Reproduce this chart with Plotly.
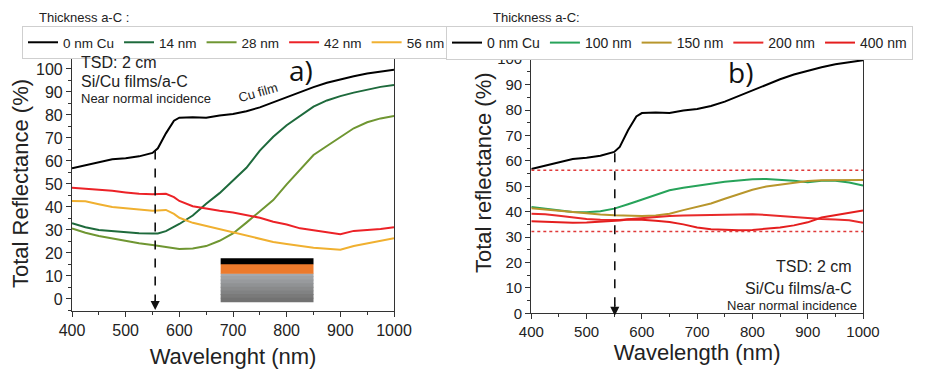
import plotly.graph_objects as go

# ---------------- data ----------------
wavelength = [400, 425, 450, 475, 500, 525, 550, 560, 575, 590, 600, 625, 650, 675,
              700, 725, 750, 775, 800, 825, 850, 875, 900, 925, 950, 975, 1000]

cu_film = [56.8, 58.2, 59.6, 60.7, 61.2, 62.0, 63.5, 65.5, 72.0, 77.5, 78.8, 79.0, 78.8, 79.8,
           80.4, 81.6, 83.3, 85.5, 88.0, 90.2, 92.1, 94.0, 95.5, 96.8, 98.0, 98.9, 99.6]

a_14nm = [32.9, 31.2, 30.0, 29.5, 28.8, 28.6, 28.5, 28.5, 29.5, 31.2, 32.6, 36.3, 41.4, 46.0,
          51.5, 57.0, 64.5, 70.5, 75.5, 79.5, 83.6, 86.3, 88.2, 89.7, 91.0, 92.2, 93.0]
a_28nm = [30.7, 28.8, 27.4, 26.3, 25.0, 24.2, 23.5, 23.1, 22.6, 22.0, 21.7, 21.9, 23.0, 25.3,
          28.5, 33.2, 38.2, 43.0, 49.8, 56.3, 62.6, 66.5, 70.2, 74.2, 76.8, 78.5, 79.6]
a_42nm = [48.4, 48.0, 47.7, 47.0, 46.3, 45.7, 45.5, 45.6, 45.7, 44.3, 42.6, 40.3, 39.2, 38.4,
          37.6, 36.4, 35.3, 33.6, 32.4, 30.7, 29.8, 28.8, 28.1, 29.6, 29.9, 30.4, 31.2]
a_56nm = [42.6, 42.5, 41.2, 40.0, 39.4, 38.8, 38.3, 38.5, 38.7, 37.0, 35.3, 33.1, 31.7, 30.2,
          28.8, 27.3, 25.9, 24.8, 23.9, 23.0, 22.3, 21.8, 21.4, 23.0, 24.1, 25.2, 26.4]

b_100nm = [41.8, 41.2, 40.5, 39.9, 39.8, 40.2, 41.2, 41.8, 42.9, 44.0, 44.7, 46.5, 48.4, 49.4,
           50.2, 51.0, 51.8, 52.3, 52.8, 52.9, 52.6, 52.2, 51.6, 52.2, 52.2, 51.5, 50.3]
b_150nm = [41.3, 40.8, 40.2, 39.7, 39.2, 38.9, 38.6, 38.5, 38.5, 38.4, 38.3, 38.5, 39.2, 40.6,
           41.8, 43.2, 45.1, 46.9, 48.6, 49.9, 50.6, 51.2, 52.1, 52.4, 52.5, 52.5, 52.5]
b_200nm = [39.2, 39.0, 38.4, 37.7, 37.1, 36.8, 36.6, 36.7, 37.0, 37.3, 37.5, 38.0, 38.3, 38.5,
           38.6, 38.8, 39.0, 39.0, 39.0, 38.7, 38.3, 37.8, 37.3, 37.1, 36.9, 36.6, 35.6]
b_400nm = [36.2, 36.0, 35.7, 35.6, 35.7, 36.0, 36.3, 36.5, 36.9, 36.9, 36.8, 36.4, 35.9, 35.0,
           33.8, 33.1, 32.8, 32.7, 32.8, 33.2, 33.8, 34.6, 35.8, 37.7, 38.7, 39.6, 40.5]

names_a = ["0 nm Cu", "14 nm", "28 nm", "42 nm", "56 nm"]
names_b = ["0 nm Cu", "100 nm", "150 nm", "200 nm", "400 nm"]

colors_a = ["#000000", "#1e6a3c", "#6f9632", "#ec2227", "#f0b030"]
colors_b = ["#000000", "#27a35a", "#b8962c", "#e82a2a", "#e41e1e"]

series_a = [cu_film, a_14nm, a_28nm, a_42nm, a_56nm]
series_b = [cu_film, b_100nm, b_150nm, b_200nm, b_400nm]

FONT = "Liberation Sans, Arial, sans-serif"

fig = go.Figure()

for name, col, ys in zip(names_a, colors_a, series_a):
    fig.add_trace(go.Scatter(x=wavelength, y=ys, mode="lines", name=name,
                             line=dict(color=col, width=2), xaxis="x", yaxis="y",
                             legend="legend"))
for name, col, ys in zip(names_b, colors_b, series_b):
    fig.add_trace(go.Scatter(x=wavelength, y=ys, mode="lines", name=name,
                             line=dict(color=col, width=2), xaxis="x2", yaxis="y2",
                             legend="legend2"))

axis_common = dict(showline=True, linecolor="#333", linewidth=1.2, mirror=True,
                   ticks="outside", ticklen=5, tickcolor="#333", showgrid=False,
                   zeroline=False, automargin=False,
                   tickfont=dict(family=FONT, size=16, color="#222"))

fig.update_layout(
    width=926, height=369,
    margin=dict(l=0, r=0, t=0, b=0, autoexpand=False),
    paper_bgcolor="white", plot_bgcolor="white",
    font=dict(family=FONT, color="#222"),
    xaxis=dict(domain=[72/926, 394/926], range=[400, 1000], dtick=100, anchor="y",
               minor=dict(dtick=50, ticklen=3, ticks="outside", tickcolor="#333"),
               title=dict(text="Wavelenght (nm)", font=dict(family=FONT, size=22), standoff=10),
               **axis_common),
    yaxis=dict(domain=[1-310.7/369, 1-51/369], range=[-5.1, 107.8], dtick=10, anchor="x",
               minor=dict(dtick=5, ticklen=3, ticks="outside", tickcolor="#333"),
               **axis_common),
    xaxis2=dict(domain=[531.3/926, 863/926], range=[400, 1000], dtick=100, anchor="y2",
                minor=dict(dtick=50, ticklen=3, ticks="outside", tickcolor="#333"),
                title=dict(text="Wavelength (nm)", font=dict(family=FONT, size=22), standoff=4),
                **axis_common),
    yaxis2=dict(domain=[1-313.3/369, 1-46.5/369], range=[0, 105], dtick=10, anchor="x2",
                minor=dict(dtick=5, ticklen=3, ticks="outside", tickcolor="#333"),
                **axis_common),
    legend=dict(orientation="h", x=22/926, y=1-26/369, xanchor="left", yanchor="top",
                bgcolor="white", bordercolor="#cfcfcf", borderwidth=1,
                font=dict(family=FONT, size=13.5, color="#222"), itemwidth=30,
                tracegroupgap=0),
    legend2=dict(orientation="h", x=446/926, y=1-26/369, xanchor="left", yanchor="top",
                 bgcolor="white", bordercolor="#cfcfcf", borderwidth=1,
                 font=dict(family=FONT, size=14, color="#222"), itemwidth=30),
    showlegend=True,
)

fig.update_xaxes(tickfont=dict(size=15), selector=dict(anchor="y2"))
fig.update_yaxes(tickfont=dict(size=15), selector=dict(anchor="x2"))

# y axis titles (as rotated text)
fig.add_annotation(text="Total Reflectance (%)", xref="paper", yref="paper", x=20/926, y=1-184/369,
                   xanchor="center", yanchor="middle", showarrow=False, textangle=-90,
                   font=dict(family=FONT, size=22, color="#222"))
fig.add_annotation(text="Total reflectance (%)", xref="paper", yref="paper", x=483/926, y=1-173/369,
                   xanchor="center", yanchor="middle", showarrow=False, textangle=-90,
                   font=dict(family=FONT, size=22, color="#222"))

# legend titles
fig.add_annotation(text="Thickness a-C :", xref="paper", yref="paper", x=37/926, y=1-17/369,
                   xanchor="left", yanchor="middle", showarrow=False,
                   font=dict(family=FONT, size=13, color="#222"))
fig.add_annotation(text="Thickness a-C:", xref="paper", yref="paper", x=491/926, y=1-17/369,
                   xanchor="left", yanchor="middle", showarrow=False,
                   font=dict(family=FONT, size=13, color="#222"))

# panel a texts
ann_a = [("TSD: 2 cm", 62, 16), ("Si/Cu films/a-C", 81.7, 16), ("Near normal incidence", 98.3, 13)]
for txt, yp, fs in ann_a:
    fig.add_annotation(text=txt, xref="paper", yref="paper", x=79/926, y=1-yp/369,
                       xanchor="left", yanchor="middle", showarrow=False,
                       font=dict(family=FONT, size=fs, color="#222"))
fig.add_annotation(text="a)", xref="paper", yref="paper", x=301/926, y=1-70/369,
                   xanchor="center", yanchor="middle", showarrow=False,
                   font=dict(family="Open Sans, sans-serif", size=28, color="#111"))
fig.add_annotation(text="Cu film", xref="paper", yref="paper", x=258/926, y=1-93/369,
                   xanchor="center", yanchor="middle", showarrow=False, textangle=-16,
                   font=dict(family=FONT, size=13, color="#222"))

# panel b texts
ann_b = [("TSD: 2 cm", 266, 16, 854), ("Si/Cu films/a-C", 288.3, 16, 854),
         ("Near normal incidence", 305.7, 13, 859)]
for txt, yp, fs, xr in ann_b:
    fig.add_annotation(text=txt, xref="paper", yref="paper", x=xr/926, y=1-yp/369,
                       xanchor="right", yanchor="middle", showarrow=False,
                       font=dict(family=FONT, size=fs, color="#222"))
fig.add_annotation(text="b)", xref="paper", yref="paper", x=740/926, y=1-71.7/369,
                   xanchor="center", yanchor="middle", showarrow=False,
                   font=dict(family="Open Sans, sans-serif", size=28, color="#111"))

# dashed arrows
ARROW_A = dict(x=555, y_top=64.5, y_tip=-4.8)
ARROW_B = dict(x=551, y_top=63.0, y_tip=-1.0)
for ax_x, ax_y, arr in (("x", "y", ARROW_A), ("x2", "y2", ARROW_B)):
    fig.add_shape(type="line", xref=ax_x, yref=ax_y, x0=arr["x"], x1=arr["x"],
                  y0=arr["y_top"], y1=arr["y_tip"] + 4,
                  line=dict(color="#111", width=1.6, dash="dash"))
    fig.add_annotation(x=arr["x"], y=arr["y_tip"], ax=arr["x"], ay=arr["y_tip"] + 5,
                       xref=ax_x, yref=ax_y, axref=ax_x, ayref=ax_y, text="",
                       showarrow=True, arrowhead=2, arrowsize=1.3, arrowwidth=1.4,
                       arrowcolor="#111")

# red dotted reference lines in panel b
REF_LEVELS = [56.3, 32.2]
for lv in REF_LEVELS:
    fig.add_shape(type="line", xref="x2", yref="y2", x0=400, x1=1000, y0=lv, y1=lv,
                  line=dict(color="#e03a3a", width=1.3, dash="dot"))

# inset schematic (panel a)
INSET_X = (677, 850)
GRAY_BANDS = ["#a6a9ad", "#9fa2a5", "#989a9d", "#909294", "#898a8b", "#818283", "#7a7a7a", "#727272"]
band_h = (11.2 - (-1.4)) / len(GRAY_BANDS)
for i, gc in enumerate(GRAY_BANDS):
    fig.add_shape(type="rect", xref="x", yref="y", x0=INSET_X[0], x1=INSET_X[1],
                  y0=11.2 - (i + 1) * band_h, y1=min(11.2, 11.2 - i * band_h + 0.4),
                  fillcolor=gc, line=dict(width=0), layer="above")
fig.add_shape(type="rect", xref="x", yref="y", x0=INSET_X[0], x1=INSET_X[1], y0=11.0, y1=15.2,
              fillcolor="#ec7a2c", line=dict(width=0))
fig.add_shape(type="rect", xref="x", yref="y", x0=INSET_X[0], x1=INSET_X[1], y0=15.1, y1=17.7,
              fillcolor="#000000", line=dict(width=0))

fig.write_html("out.html", config={"displayModeBar": False},
               post_script="document.body.style.margin='0';document.body.style.overflow='hidden';")
